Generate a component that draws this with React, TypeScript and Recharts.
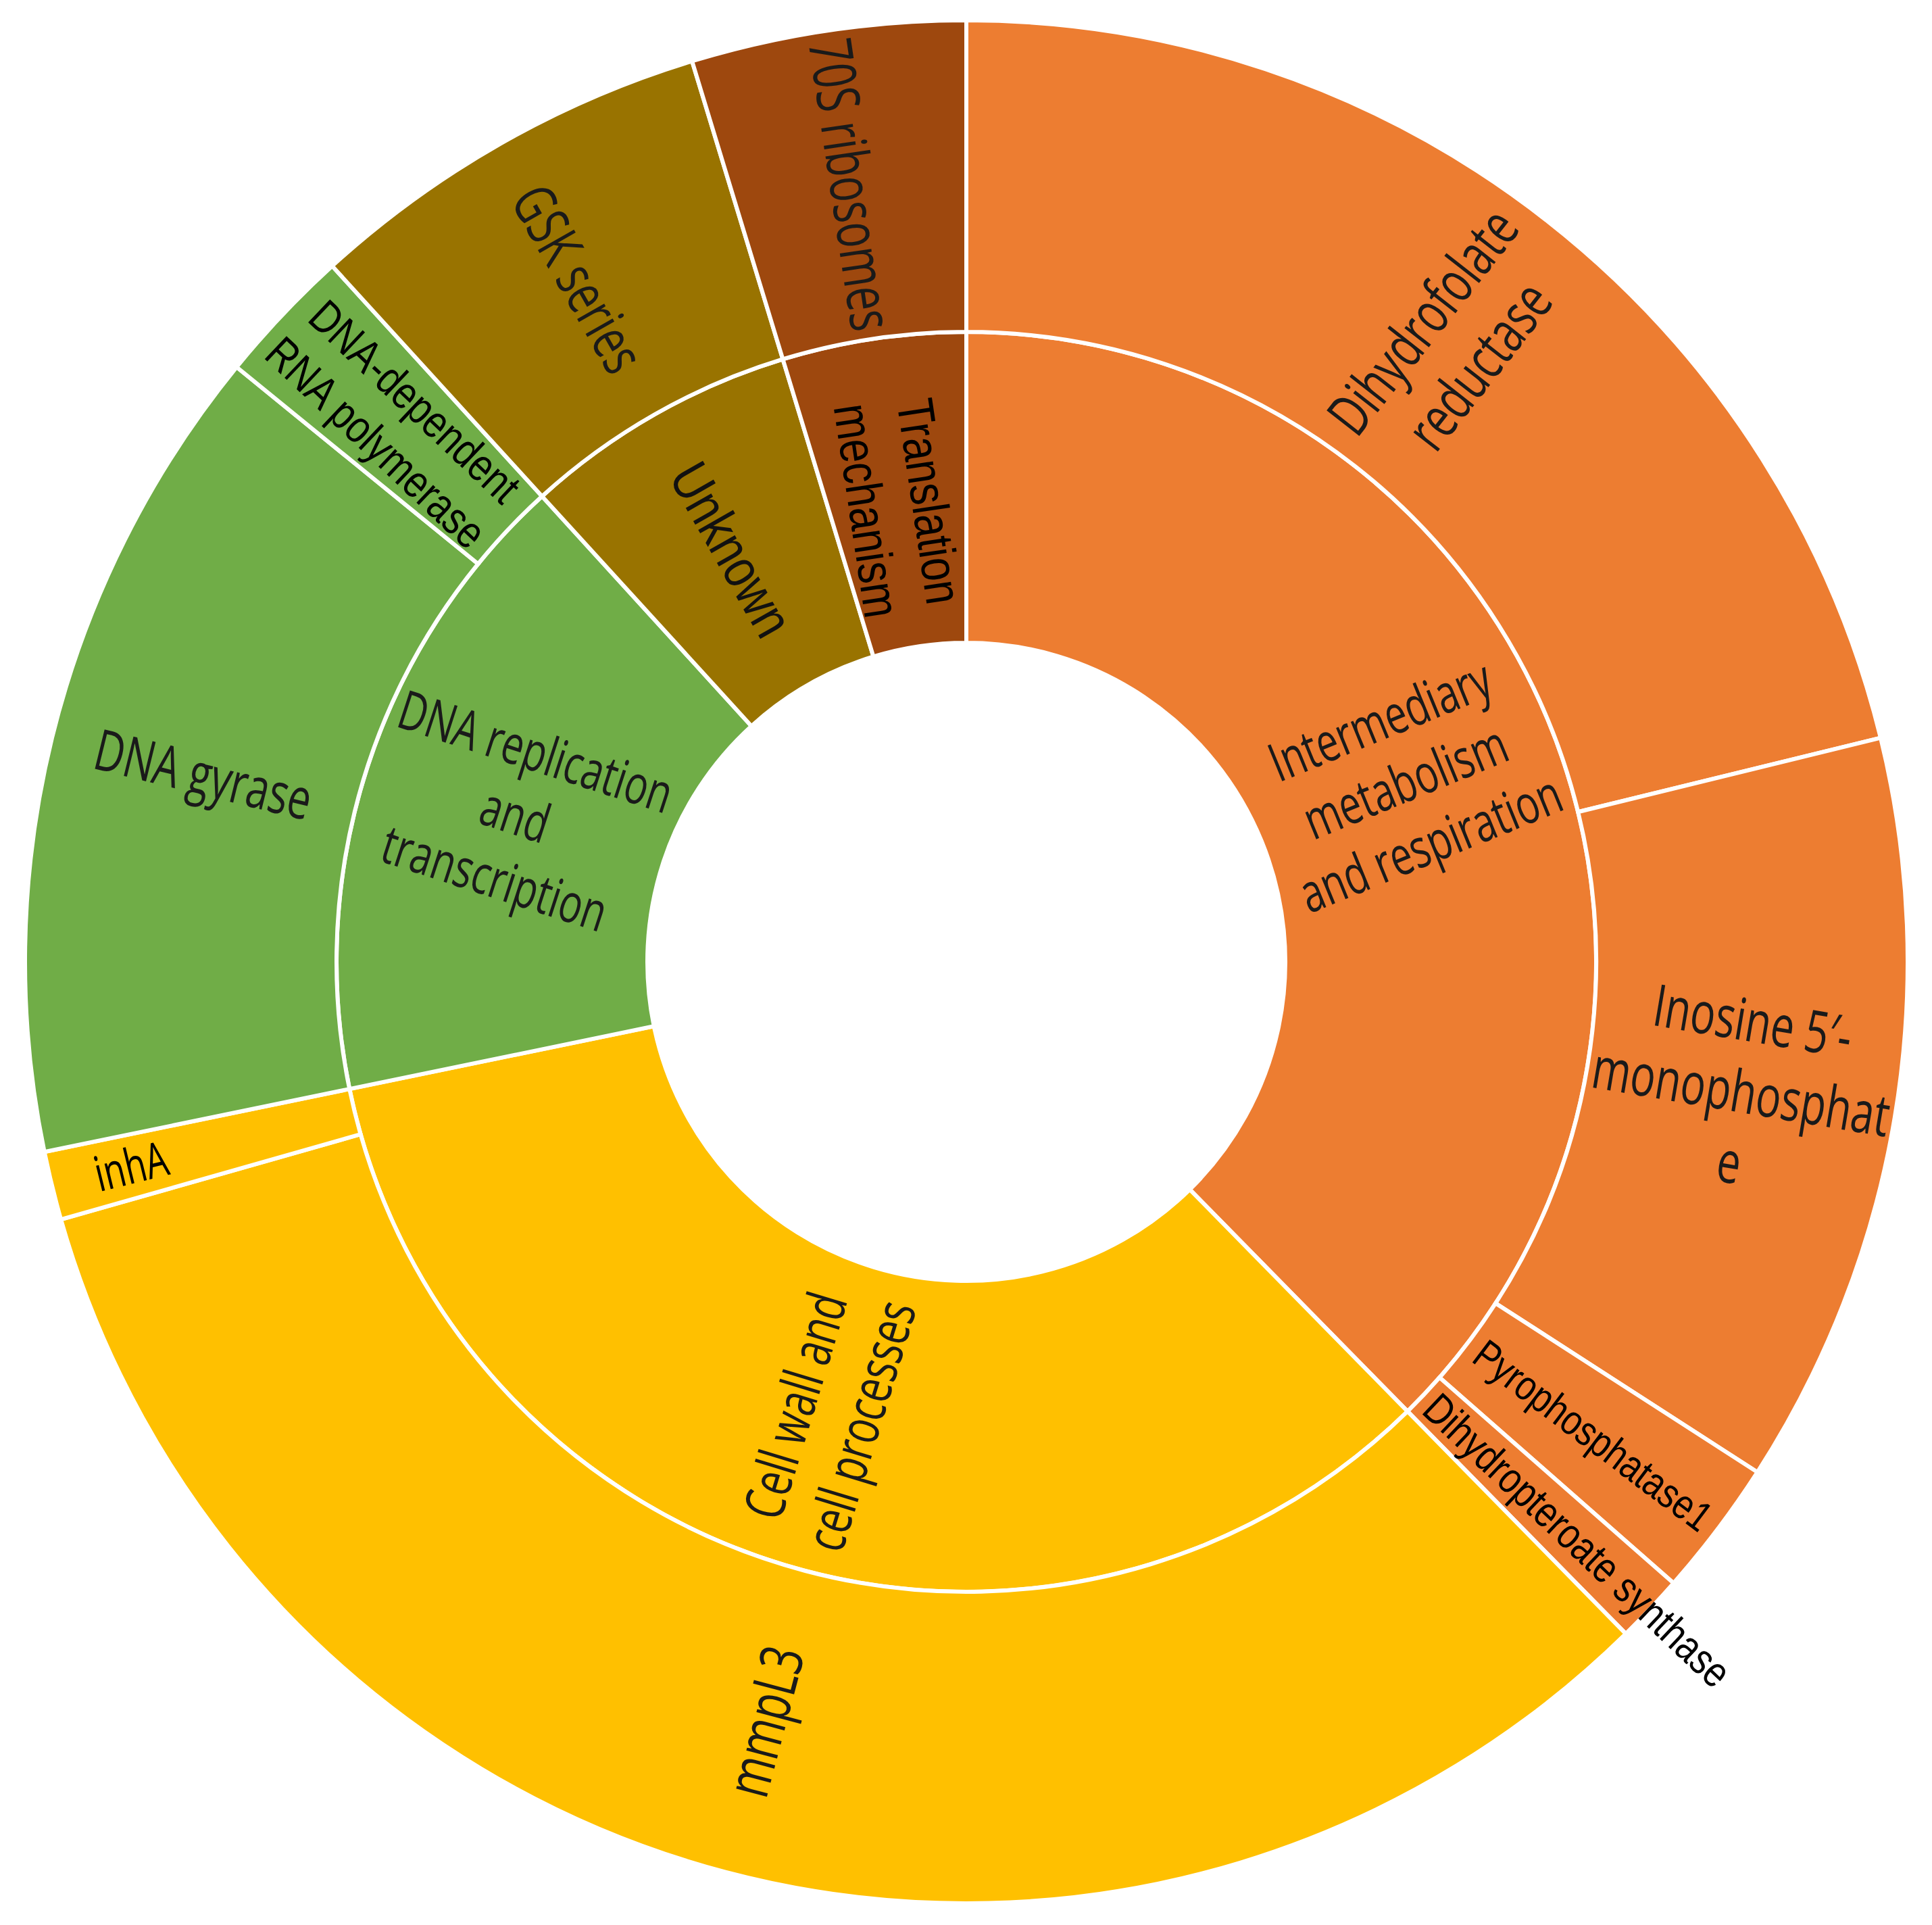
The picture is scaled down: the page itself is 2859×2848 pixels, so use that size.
import React from 'react';
import { PieChart, Pie, Cell } from 'recharts';

// ---- data ----
const categories = [
  'Intermediary metabolism and respiration',
  'Cell wall and cell processes',
  'DNA replication and transcription',
  'Unknown',
  'Translation mechanism',
];
const categoryValues = [32, 29, 14, 6, 4];
const categoryColors = ['#ED7D31', '#FFC000', '#70AD47', '#997300', '#9E480E'];

const targets = [
  'Dihydrofolate reductase',
  'Inosine 5′-monophosphate',
  'Pyrophosphatase1',
  'Dihydropteroate synthase',
  'mmpL3',
  'inhA',
  'DNA gyrase',
  'DNA-dependent RNA polymerase',
  'GSK series',
  '70S ribosomes',
];
const targetValues = [18, 11, 2, 1, 28, 1, 12, 2, 6, 4];
const targetParents = [0, 0, 0, 0, 1, 1, 2, 2, 3, 4];

// ---- label styling (wrapping, sizes) ----
type LabelStyle = {
  lines: string[];
  size: number;
  font: 'open' | 'lib';
  color: string;
  anchor?: 'start';
  radialShift?: number;
};
const labelStyles: Record<string, LabelStyle> = {
  'Intermediary metabolism and respiration': { lines: ['Intermediary', 'metabolism', 'and respiration'], size: 80, font: 'open', color: '#1a1a1a' },
  'Cell wall and cell processes': { lines: ['Cell wall and', 'cell processes'], size: 82, font: 'open', color: '#1a1a1a' },
  'DNA replication and transcription': { lines: ['DNA replication', 'and', 'transcription'], size: 80, font: 'open', color: '#1a1a1a' },
  'Unknown': { lines: ['Unknown'], size: 82, font: 'lib', color: '#111111' },
  'Translation mechanism': { lines: ['Translation', 'mechanism'], size: 76, font: 'lib', color: '#000000', radialShift: -20 },
  'Dihydrofolate reductase': { lines: ['Dihydrofolate', 'reductase'], size: 86, font: 'open', color: '#1a1a1a' },
  'Inosine 5′-monophosphate': { lines: ['Inosine 5′-', 'monophosphat', 'e'], size: 86, font: 'open', color: '#1a1a1a' },
  'Pyrophosphatase1': { lines: ['Pyrophosphatase1'], size: 62, font: 'lib', color: '#000000' },
  'Dihydropteroate synthase': { lines: ['Dihydropteroate synthase'], size: 64, font: 'lib', color: '#000000', anchor: 'start' },
  'mmpL3': { lines: ['mmpL3'], size: 88, font: 'open', color: '#1a1a1a' },
  'inhA': { lines: ['inhA'], size: 72, font: 'open', color: '#000000', radialShift: 110 },
  'DNA gyrase': { lines: ['DNA gyrase'], size: 84, font: 'open', color: '#1a1a1a' },
  'DNA-dependent RNA polymerase': { lines: ['DNA-dependent', 'RNA polymerase'], size: 68, font: 'lib', color: '#000000' },
  'GSK series': { lines: ['GSK series'], size: 86, font: 'open', color: '#1a1a1a' },
  '70S ribosomes': { lines: ['70S ribosomes'], size: 88, font: 'open', color: '#1a1a1a' },
};

const innerData = categories.map((name, i) => ({ name, value: categoryValues[i] }));
const outerData = targets.map((name, i) => ({ name, value: targetValues[i], parent: targetParents[i] }));

const CX = 1430;
const CY = 1423;
const R_IN = 472;
const R_MID = 932;
const R_OUT = 1393;

function renderLabel(props: any) {
  const { cx, cy, midAngle, innerRadius, outerRadius, index } = props;
  const key = (props.payload && props.payload.name) || props.name;
  const st = labelStyles[key];
  if (!st) return null;
  const theta = (((90 - midAngle) % 360) + 360) % 360;
  const rot = theta < 180 ? theta - 90 : theta - 270;
  const r =
    st.anchor === 'start'
      ? innerRadius + 14
      : (innerRadius + outerRadius) / 2 + (st.radialShift || 0);
  const rad = (theta * Math.PI) / 180;
  const x = Number(cx) + r * Math.sin(rad);
  const y = Number(cy) - r * Math.cos(rad);
  const n = st.lines.length;
  const lh = st.size * 1.23;
  const sx = st.font === 'open' ? 0.72 : 0.82;
  const family = st.font === 'open' ? '"Open Sans", sans-serif' : '"Liberation Sans", Arial, sans-serif';
  return (
    <text
      key={`lbl-${key}-${index}`}
      transform={`translate(${x},${y}) rotate(${rot}) scale(${sx},1)`}
      textAnchor={st.anchor === 'start' ? 'start' : 'middle'}
      fontFamily={family}
      fontWeight={st.font === 'open' ? 500 : 400}
      fontSize={st.size}
      fill={st.color}
    >
      {st.lines.map((line, i) => (
        <tspan key={i} x={0} y={(i - (n - 1) / 2) * lh + 0.35 * st.size}>
          {line}
        </tspan>
      ))}
    </text>
  );
}

export default function App() {
  return (
    <div style={{ position: 'absolute', left: 0, top: 0, width: 2859, height: 2848, background: '#ffffff' }}>
      <PieChart width={2859} height={2848} margin={{ top: 0, right: 0, bottom: 0, left: 0 }}>
        <Pie
          data={innerData}
          dataKey="value"
          nameKey="name"
          cx={CX}
          cy={CY}
          innerRadius={R_IN}
          outerRadius={R_MID}
          startAngle={90}
          endAngle={-270}
          stroke="#ffffff"
          strokeWidth={6}
          label={renderLabel}
          labelLine={false}
          isAnimationActive={false}
        >
          {innerData.map((d, i) => (
            <Cell key={d.name} fill={categoryColors[i]} />
          ))}
        </Pie>
        <Pie
          data={outerData}
          dataKey="value"
          nameKey="name"
          cx={CX}
          cy={CY}
          innerRadius={R_MID}
          outerRadius={R_OUT}
          startAngle={90}
          endAngle={-270}
          stroke="#ffffff"
          strokeWidth={6}
          label={renderLabel}
          labelLine={false}
          isAnimationActive={false}
        >
          {outerData.map((d) => (
            <Cell key={d.name} fill={categoryColors[d.parent]} />
          ))}
        </Pie>
      </PieChart>
    </div>
  );
}
